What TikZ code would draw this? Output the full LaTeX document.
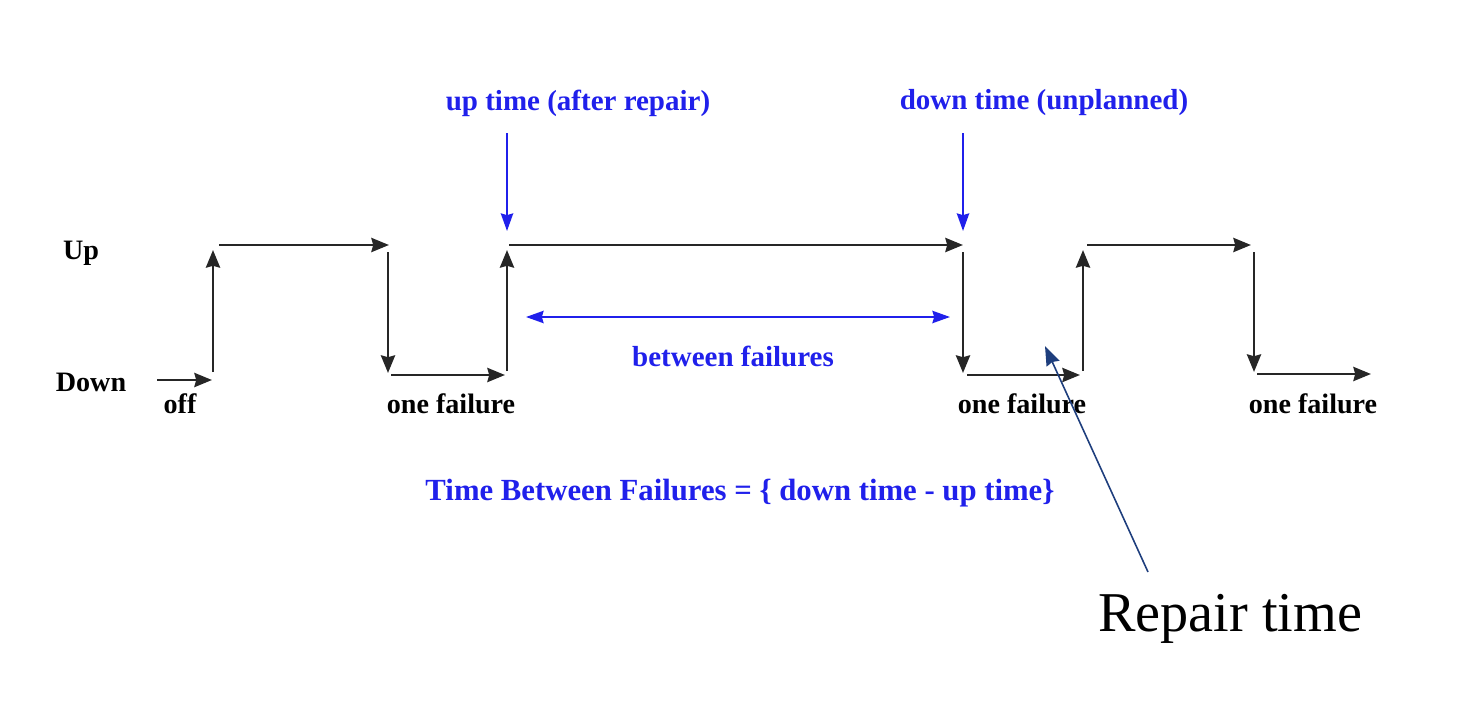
\documentclass[tikz,border=0pt]{standalone}
\usepackage{fontspec}
\setmainfont{Liberation Serif}
\usetikzlibrary{arrows.meta}
\definecolor{lblue}{RGB}{32,32,235}
\definecolor{navy}{RGB}{30,62,125}
\tikzset{
  wave/.style={line width=1.6pt, draw=black!85, -{Stealth[length=10pt,width=8pt,inset=1pt]}},
  bluearrow/.style={line width=1.2pt, draw=lblue, -{Stealth[length=10pt,width=7pt,inset=1pt]}},
  lbl/.style={font=\fontsize{16}{19}\selectfont\bfseries, text=black, inner sep=0pt},
  bluelbl/.style={font=\fontsize{16.5}{19}\selectfont\bfseries, text=lblue, inner sep=0pt},
}
\begin{document}
\begin{tikzpicture}[x=0.02cm,y=-0.02cm]
\useasboundingbox (0,0) rectangle (1480,706);
% waveform coordinates
\coordinate (o1) at (157,380);
\coordinate (o2) at (212,380);
\coordinate (a1) at (213,372);
\coordinate (a2) at (213,250);
\coordinate (b1) at (219,245);
\coordinate (b2) at (389,245);
\coordinate (c1) at (388,252);
\coordinate (c2) at (388,373);
\coordinate (d1) at (391,375);
\coordinate (d2) at (505,375);
\coordinate (e1) at (507,371);
\coordinate (e2) at (507,250);
\coordinate (f1) at (509,245);
\coordinate (f2) at (963,245);
\coordinate (g1) at (963,252);
\coordinate (g2) at (963,373);
\coordinate (h1) at (967,375);
\coordinate (h2) at (1080,375);
\coordinate (i1) at (1083,371);
\coordinate (i2) at (1083,250);
\coordinate (j1) at (1087,245);
\coordinate (j2) at (1251,245);
\coordinate (k1) at (1254,252);
\coordinate (k2) at (1254,372);
\coordinate (l1) at (1257,374);
\coordinate (l2) at (1371,374);

\draw[wave] (o1) -- (o2);
\draw[wave] (a1) -- (a2);
\draw[wave] (b1) -- (b2);
\draw[wave] (c1) -- (c2);
\draw[wave] (d1) -- (d2);
\draw[wave] (e1) -- (e2);
\draw[wave] (f1) -- (f2);
\draw[wave] (g1) -- (g2);
\draw[wave] (h1) -- (h2);
\draw[wave] (i1) -- (i2);
\draw[wave] (j1) -- (j2);
\draw[wave] (k1) -- (k2);
\draw[wave] (l1) -- (l2);

% level labels
\node[lbl] (up) at (81,253) {Up};
\node[lbl] (down) at (91,382) {Down};
\node[lbl] (off) at (180,404) {off};
\node[lbl] (f1lbl) at (451,404) {one failure};
\node[lbl] (f2lbl) at (1022,404) {one failure};
\node[lbl] (f3lbl) at (1313,404) {one failure};

% blue annotations
\node[bluelbl] (uptime) at (578,103) {up time (after repair)};
\node[bluelbl] (downtime) at (1044,103) {down time (unplanned)};
\coordinate (ut1) at (507,133);
\coordinate (ut2) at (507,231);
\coordinate (dt1) at (963,133);
\coordinate (dt2) at (963,231);
\draw[bluearrow] (ut1) -- (ut2);
\draw[bluearrow] (dt1) -- (dt2);

\coordinate (bf1) at (526,317);
\coordinate (bf2) at (950,317);
\draw[line width=1.2pt, draw=lblue, {Stealth[length=10pt,width=7pt,inset=1pt]}-{Stealth[length=10pt,width=7pt,inset=1pt]}] (bf1) -- (bf2);
\node[bluelbl] (between) at (733,356) {between failures};
\node[bluelbl, font=\fontsize{17.5}{20}\selectfont\bfseries] (formula) at (740,493) {Time Between Failures = \{ down time - up time\}};

% repair time
\node[inner sep=0pt, font=\fontsize{32}{38}\selectfont] (repair) at (1230,619) {Repair time};
\coordinate (rt1) at (1148,572);
\coordinate (rt2) at (1045,346);
\draw[line width=0.9pt, draw=navy, -{Stealth[length=11pt,width=8pt,inset=1pt]}] (rt1) -- (rt2);
\end{tikzpicture}
\end{document}
